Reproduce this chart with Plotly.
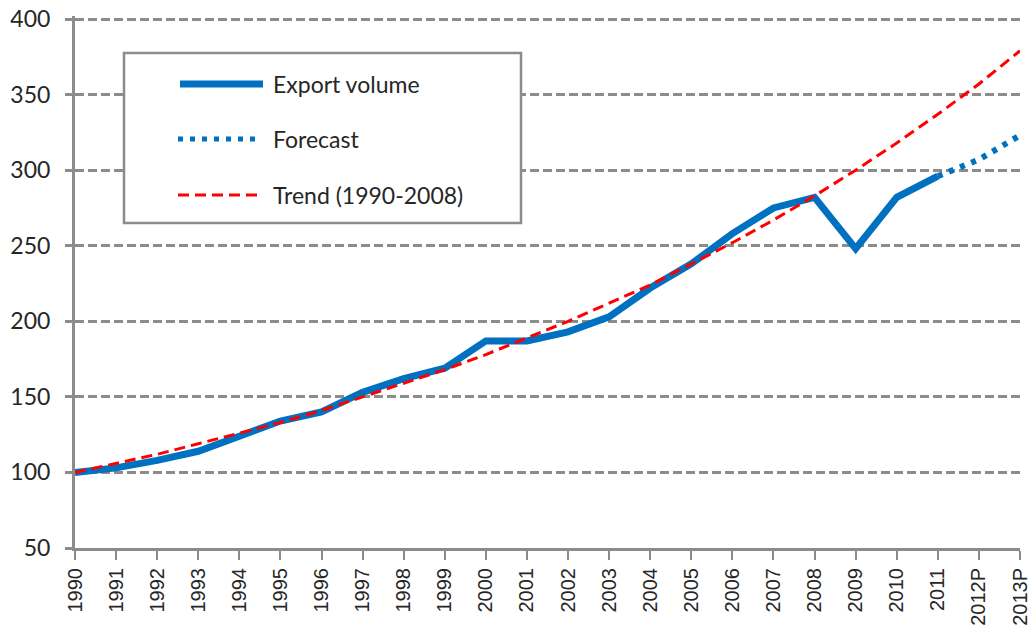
import plotly.graph_objects as go

# ---- data ----
years = ["1990", "1991", "1992", "1993", "1994", "1995", "1996", "1997", "1998",
         "1999", "2000", "2001", "2002", "2003", "2004", "2005", "2006", "2007",
         "2008", "2009", "2010", "2011", "2012P", "2013P"]

export_years = years[:22]
export_volume = [100, 103, 108, 114, 124, 134, 140, 153, 162, 169, 187, 187,
                 193, 203, 222, 238, 258, 275, 282, 248, 282, 296]

forecast_years = ["2011", "2012P", "2013P"]
forecast = [296, 307, 323]

trend = [100, 106, 112, 119, 126, 133, 141, 150, 159, 168, 178, 189,
         200, 212, 224, 238, 252, 267, 283, 300, 318, 337, 357, 379]

y_ticks = [50, 100, 150, 200, 250, 300, 350, 400]

legend_labels = ["Export volume", "Forecast", "Trend (1990-2008)"]

BLUE = "#0070C0"
RED = "#FF0000"
GRID = "#8c8c8c"
TXT = "#262626"

fig = go.Figure()
fig.add_trace(go.Scatter(x=export_years, y=export_volume, mode="lines",
                         name=legend_labels[0], showlegend=False,
                         line=dict(color=BLUE, width=7)))
fig.add_trace(go.Scatter(x=forecast_years, y=forecast, mode="lines",
                         name=legend_labels[1], showlegend=False,
                         line=dict(color=BLUE, width=6, dash="5px,7px")))
fig.add_trace(go.Scatter(x=years, y=trend, mode="lines",
                         name=legend_labels[2], showlegend=False,
                         line=dict(color=RED, width=3, dash="11px,6px")))

# ---- legend drawn as a box (paper coordinates; window pixels -> paper) ----
TOP_PX, BOT_PX = 16, 548

def px_x(p):
    return (p - 75) / 945.0

def px_y(p):
    return (BOT_PX - p) / float(BOT_PX - TOP_PX)

shapes = [
    dict(type="rect", xref="paper", yref="paper",
         x0=px_x(124), x1=px_x(521), y0=px_y(223), y1=px_y(53),
         line=dict(color=GRID, width=2.5), fillcolor="white", layer="above"),
    dict(type="line", xref="paper", yref="paper",
         x0=px_x(180), x1=px_x(263), y0=px_y(84), y1=px_y(84),
         line=dict(color=BLUE, width=7)),
    dict(type="line", xref="paper", yref="paper",
         x0=px_x(178), x1=px_x(257), y0=px_y(139), y1=px_y(139),
         line=dict(color=BLUE, width=5, dash="5px,7px")),
    dict(type="line", xref="paper", yref="paper",
         x0=px_x(178), x1=px_x(261), y0=px_y(195), y1=px_y(195),
         line=dict(color=RED, width=3, dash="11px,6px")),
]
annotations = []
for lbl, py in zip(legend_labels, [84, 139, 195]):
    annotations.append(dict(xref="paper", yref="paper", x=px_x(271), y=px_y(py),
                            text=lbl, showarrow=False, xanchor="left",
                            yanchor="middle",
                            font=dict(family="Lato", size=23, color=TXT)))

fig.update_layout(
    width=1035, height=633,
    margin=dict(l=75, r=15, t=TOP_PX, b=633 - BOT_PX),
    paper_bgcolor="white", plot_bgcolor="white",
    showlegend=False,
    shapes=shapes, annotations=annotations,
    xaxis=dict(type="category", range=[0, 23], showgrid=False,
               showline=True, linecolor=GRID, linewidth=3,
               ticks="outside", ticklen=9, tickwidth=2, tickcolor=GRID,
               tickangle=-90, automargin=False,
               tickfont=dict(family="Liberation Sans", size=20, color=TXT)),
    yaxis=dict(range=[50, 402], tickvals=y_ticks, showgrid=True,
               gridcolor=GRID, gridwidth=3, griddash="9px,4px",
               showline=True, linecolor=GRID, linewidth=3, zeroline=False,
               ticks="outside", ticklen=7, tickwidth=3, tickcolor=GRID,
               ticklabelstandoff=10, automargin=False,
               tickfont=dict(family="Lato", size=23, color=TXT)),
)

# remove the page's default body margin so the figure sits at the window origin
fig.write_html("out.html", config={"displayModeBar": False},
               post_script="document.body.style.margin='0';")
